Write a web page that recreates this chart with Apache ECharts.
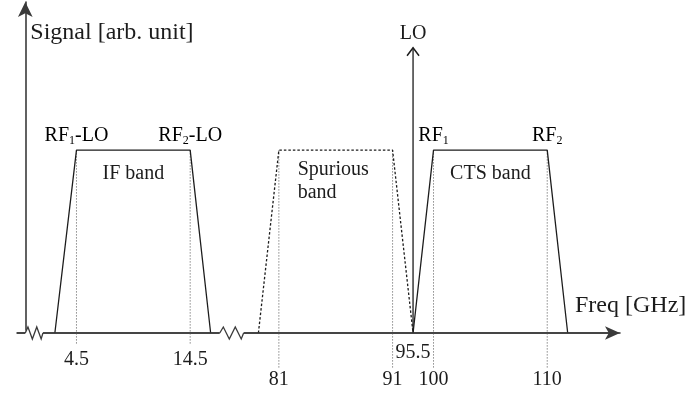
<!DOCTYPE html>
<html>
<head>
<meta charset="utf-8">
<script src="https://cdn.jsdelivr.net/npm/echarts@6/dist/echarts.min.js"></script>
<style>
  html, body { margin: 0; padding: 0; background: #ffffff; }
  #chart { width: 690px; height: 396px; }
</style>
</head>
<body>
<div id="chart"></div>
<script>
// Sketch of the receiver bands in the frequency domain (GHz, arbitrary signal units).

// Trapezoid corners of each band: frequency of each corner and its relative level.
const bandLevel    = [0, 1, 1, 0];
const ifFreq       = [2.6, 4.5, 14.5, 16.3];
const spuriousFreq = [79.2, 81, 91, 95.5];
const ctsFreq      = [95.5, 100, 110, 111.8];

// Local oscillator line.
const loFreq  = 95.5;
const loLevel = 1.56;

// Names written over the band edges (rich text: m = main, s = subscript).
const ifEdgeNames  = ['{m|RF}{s|1}{m|-LO}', '{m|RF}{s|2}{m|-LO}'];
const ctsEdgeNames = ['{m|RF}{s|1}', '{m|RF}{s|2}'];
const bandNames    = ['IF band', 'Spurious\nband', 'CTS band'];

// Frequencies marked under the axis.
const tickFreqs  = [4.5, 14.5, 81, 91, 95.5, 100, 110];
const tickLabels = ['4.5', '14.5', '81', '91', '95.5', '100', '110'];

// Stretches of the frequency axis that are cut out of the drawing.
const axisBreaks = [
  { start: 17.1, end: 77.9, gap: 2.1 },
  { start: 91.5, end: 95.0, gap: 0.8 },
  { start: 96.0, end: 99.5, gap: 0.8 }
];
// Spans where the axis line is drawn as a zigzag.
const zigzagSpans = [[0, 1.55], [17.1, 77.9]];

const SERIF = '"Liberation Serif", "Times New Roman", serif';
const INK = '#1c1c1c';
const AXIS = '#3a3a3a';
const FONT = '20px ' + SERIF;

const rich = {
  m: { fontFamily: SERIF, fontSize: 20, color: INK, lineHeight: 22 },
  s: { fontFamily: SERIF, fontSize: 12, color: INK, lineHeight: 13, verticalAlign: 'bottom' }
};

// Dotted guide length and label offset (px below the axis) per kind of mark.
const GUIDE = {
  if: { drop: 12, label: 27 },
  rf: { drop: 35, label: 47 },
  lo: { drop: 0,  label: 20 }
};

function bandSeries(name, freqs, dashed) {
  return {
    type: 'line',
    name: name,
    data: freqs.map((f, i) => [f, bandLevel[i]]),
    symbol: 'none',
    silent: true,
    z: 3,
    lineStyle: { color: INK, width: 1.3, type: dashed ? [2.5, 2] : 'solid' }
  };
}

const edgeItems = [
  [ifFreq[1], ifEdgeNames[0]], [ifFreq[2], ifEdgeNames[1]],
  [ctsFreq[1], ctsEdgeNames[0]], [ctsFreq[2], ctsEdgeNames[1]]
];

const bandCenters = [
  (ifFreq[1] + ifFreq[2]) / 2,
  (spuriousFreq[1] + spuriousFreq[2]) / 2,
  (ctsFreq[1] + ctsFreq[2]) / 2
];

const chart = echarts.init(document.getElementById('chart'), null, { renderer: 'canvas' });

chart.setOption({
  animation: false,
  backgroundColor: '#ffffff',
  grid: { left: 17, right: 70, top: 2, bottom: 63, containLabel: false, outerBoundsMode: 'none' },
  xAxis: {
    type: 'value',
    min: -0.73,
    max: 116.4,
    breaks: axisBreaks,
    breakArea: { show: false, expandOnClick: false },
    axisLine: {
      show: true,
      breakLine: false,
      symbol: ['none', 'arrow'],
      symbolSize: [10, 15],
      lineStyle: { color: AXIS, width: 1.6 }
    },
    axisTick: { show: false },
    axisLabel: { show: false },
    splitLine: { show: false },
    name: 'Freq [GHz]',
    nameLocation: 'end',
    nameGap: -45,
    nameTextStyle: {
      fontFamily: SERIF, fontSize: 24, color: INK,
      align: 'left', verticalAlign: 'bottom', lineHeight: 24, padding: [0, 0, 15, 0]
    }
  },
  yAxis: {
    type: 'value',
    min: 0,
    max: 1.81,
    axisLine: {
      show: true,
      symbol: ['none', 'arrow'],
      symbolSize: [11, 15],
      lineStyle: { color: AXIS, width: 1.6 }
    },
    axisTick: { show: false },
    axisLabel: { show: false },
    splitLine: { show: false },
    name: 'Signal [arb. unit]',
    nameLocation: 'end',
    nameGap: -31,
    nameTextStyle: {
      fontFamily: SERIF, fontSize: 24, color: INK,
      align: 'left', verticalAlign: 'middle', padding: [0, 0, 0, 5]
    }
  },
  series: [
    bandSeries('IF band', ifFreq, false),
    bandSeries('Spurious band', spuriousFreq, true),
    bandSeries('CTS band', ctsFreq, false),

    // Dotted guides from the band edges and the frequency labels under the axis.
    {
      type: 'custom',
      name: 'guides',
      silent: true,
      clip: false,
      z: 2,
      data: tickFreqs.map(f => [f, 0]),
      renderItem: function (params, api) {
        const f = api.value(0);
        const kind = f === loFreq ? 'lo' : (ifFreq.indexOf(f) >= 0 ? 'if' : 'rf');
        const lay = GUIDE[kind];
        const top = api.coord([f, 1]);
        const base = api.coord([f, 0]);
        const children = [];
        if (lay.drop) {
          children.push({
            type: 'line',
            shape: { x1: top[0], y1: top[1], x2: top[0], y2: base[1] + lay.drop },
            style: { stroke: '#8a8a8a', lineWidth: 1, lineDash: [1.5, 1.5] }
          });
        }
        children.push({
          type: 'text',
          style: {
            text: tickLabels[params.dataIndex], x: base[0], y: base[1] + lay.label,
            font: FONT, fill: INK, align: 'center', verticalAlign: 'middle'
          }
        });
        return { type: 'group', children: children };
      }
    },

    // Edge names above the band plateaus.
    {
      type: 'custom',
      name: 'edgeNames',
      silent: true,
      clip: false,
      z: 4,
      data: edgeItems.map(e => [e[0], 1]),
      renderItem: function (params, api) {
        const p = api.coord([api.value(0), api.value(1)]);
        return {
          type: 'text',
          style: {
            text: edgeItems[params.dataIndex][1], rich: rich,
            x: p[0], y: p[1] - 14, align: 'center', verticalAlign: 'middle'
          }
        };
      }
    },

    // Band names inside the trapezoids.
    {
      type: 'custom',
      name: 'bandNames',
      silent: true,
      clip: false,
      z: 4,
      data: bandCenters.map(c => [c, 1]),
      renderItem: function (params, api) {
        const p = api.coord([api.value(0), api.value(1)]);
        const twoLines = bandNames[params.dataIndex].indexOf('\n') >= 0;
        return {
          type: 'text',
          style: {
            text: bandNames[params.dataIndex],
            x: twoLines ? p[0] - 38 : p[0],
            y: p[1] + (twoLines ? 8 : 14),
            font: FONT, lineHeight: twoLines ? 23 : 20, fill: INK,
            align: twoLines ? 'left' : 'center', verticalAlign: 'top'
          }
        };
      }
    },

    // Local oscillator arrow.
    {
      type: 'custom',
      name: 'LO',
      silent: true,
      clip: false,
      z: 4,
      data: [[loFreq, loLevel]],
      renderItem: function (params, api) {
        const base = api.coord([api.value(0), 0]);
        const tip = api.coord([api.value(0), api.value(1)]);
        return {
          type: 'group',
          children: [
            { type: 'line', shape: { x1: base[0], y1: base[1], x2: tip[0], y2: tip[1] },
              style: { stroke: INK, lineWidth: 1.3 } },
            { type: 'polyline', shape: { points: [[tip[0] - 6, tip[1] + 8], [tip[0], tip[1]], [tip[0] + 6, tip[1] + 8]] },
              style: { stroke: INK, lineWidth: 1.5, fill: null } },
            { type: 'text', style: { text: 'LO', x: tip[0], y: tip[1] - 14, font: FONT, fill: INK,
              align: 'center', verticalAlign: 'middle' } }
          ]
        };
      }
    },

    // Axis line through the compressed stretches, then zigzag marks where the axis is broken.
    {
      type: 'custom',
      name: 'axisBreakMarks',
      silent: true,
      clip: false,
      z: 5,
      data: zigzagSpans.map(s => [s[0], s[1], 0]),
      encode: { x: [0, 1], y: 2 },
      renderItem: function (params, api) {
        const a = api.coord([api.value(0), 0]);
        const b = api.coord([api.value(1), 0]);
        const w = b[0] - a[0];
        const y = a[1];
        const fr = [0, 0.15, 0.4, 0.65, 0.9, 1];
        const dy = [0, -6, 6, -6, 6, 0];
        const children = [];
        if (params.dataIndex === 0) {
          // continuous base line across the whole axis so compressed breaks leave no gap
          const x0 = api.coord([-0.73, 0])[0];
          const x1 = api.coord([116.4, 0])[0];
          children.push({ type: 'line', shape: { x1: x0, y1: y, x2: x1 - 8, y2: y },
            style: { stroke: AXIS, lineWidth: 1.6 } });
        }
        children.push(
          { type: 'rect', shape: { x: a[0], y: y - 2.5, width: w, height: 5 }, style: { fill: '#ffffff' } },
          { type: 'polyline', shape: { points: fr.map((t, k) => [a[0] + t * w, y + dy[k]]) },
            style: { stroke: AXIS, lineWidth: 1.3, fill: null } }
        );
        return { type: 'group', children: children };
      }
    }
  ]
});
</script>
</body>
</html>
